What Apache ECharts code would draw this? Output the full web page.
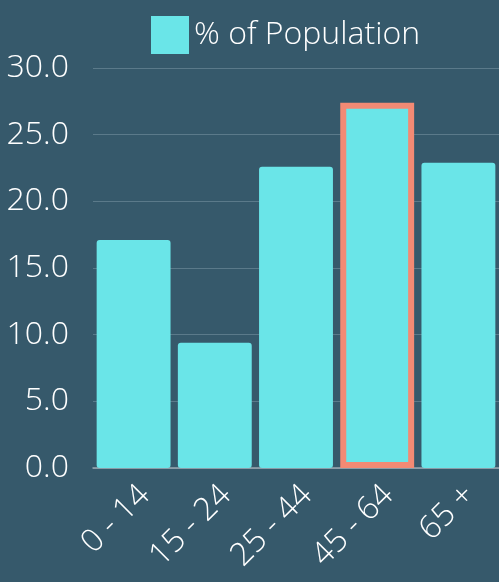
<!DOCTYPE html>
<html><head><meta charset="utf-8">
<script src="https://cdn.jsdelivr.net/npm/echarts@6/dist/echarts.min.js"></script>
<style>html,body{margin:0;padding:0;background:#36596b;}#c{width:499px;height:582px;}</style>
</head><body><div id="c"></div>
<script>
const categories = ['0 - 14', '15 - 24', '25 - 44', '45 - 64', '65 +'];
const populationPct = [17.1, 9.4, 22.6, 27.4, 22.9];
const highlightIndex = 3;
const yTicks = {min: 0, max: 30, interval: 5};

const font = 'Open Sans';
const chart = echarts.init(document.getElementById('c'));
chart.setOption({
  backgroundColor: '#36596b',
  animation: false,
  legend: {
    data: ['% of Population'],
    left: 146, top: 11,
    itemWidth: 38, itemHeight: 38, itemGap: 6,
    icon: 'rect',
    textStyle: {color: '#ffffff', fontSize: 32, fontWeight: 300, fontFamily: font}
  },
  grid: {left: 93, top: 68, width: 408, height: 400},
  xAxis: {
    type: 'category', data: categories,
    axisLine: {lineStyle: {color: '#9aa9b2', width: 1.5}},
    axisTick: {show: false},
    axisLabel: {color: '#ffffff', fontSize: 32, fontWeight: 300, fontFamily: font, rotate: 45,
      margin: 11, verticalAlign: 'top'}
  },
  yAxis: {
    type: 'value', min: yTicks.min, max: yTicks.max, interval: yTicks.interval,
    axisLabel: {color: '#ffffff', fontSize: 32, fontWeight: 300, fontFamily: font, margin: 24,
      formatter: v => v.toFixed(1)},
    splitLine: {lineStyle: {color: '#5b7a8a', width: 1}},
    axisLine: {show: false}, axisTick: {show: false}
  },
  series: [{
    name: '% of Population', type: 'bar',
    barCategoryGap: '9%',
    itemStyle: {color: '#6ae5e8', borderRadius: 3},
    data: populationPct.map((v, i) => i === highlightIndex
      ? {value: v, itemStyle: {borderColor: '#f38a74', borderWidth: 6, borderRadius: 0}}
      : v)
  }]
});
</script></body></html>
